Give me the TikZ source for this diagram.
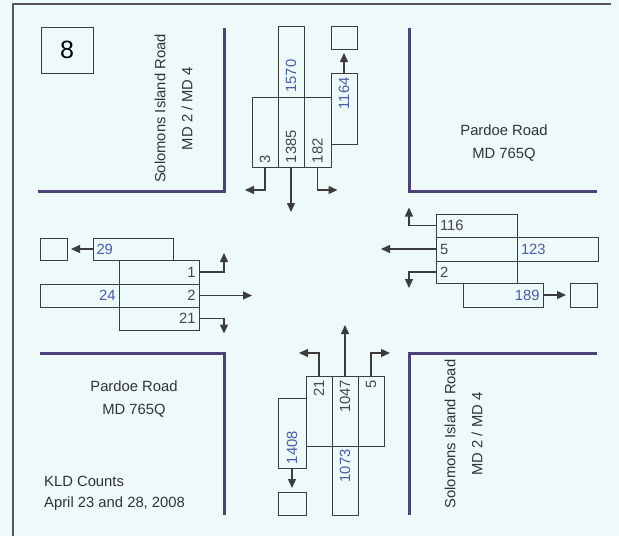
\documentclass[tikz,border=0pt]{standalone}
\usepackage{fontspec}
\setmainfont{Liberation Sans}
\usetikzlibrary{arrows.meta,positioning}
\definecolor{bgcyan}{RGB}{238,249,249}
\definecolor{curb}{RGB}{78,66,122}
\definecolor{framegray}{RGB}{85,85,85}
\definecolor{boxgray}{RGB}{60,60,60}
\definecolor{cntblue}{RGB}{72,92,170}
\definecolor{mvgray}{RGB}{70,70,70}

\begin{document}
\begin{tikzpicture}[
  x=1pt, y=-1pt,
  font=\fontsize{14.8}{18}\selectfont,
  cell/.style={draw=boxgray, line width=1pt, inner sep=0pt, outer sep=0pt, text=mvgray},
  hcell/.style={cell, minimum width=80pt, minimum height=23pt, text width=73pt},
  vcell/.style={cell, rotate=90, minimum width=70pt, minimum height=26pt, text width=62pt},
  total/.style={text=cntblue},
  sink/.style={draw=boxgray, line width=1pt, inner sep=0pt, outer sep=0pt, minimum width=26pt, minimum height=23pt},
  arr/.style={-{Triangle[length=9pt,width=8pt]}, line width=1.4pt, draw=boxgray},
  toend/.style={arr, shorten >=4pt},
  curbline/.style={curb, line width=3pt},
  roadname/.style={align=center, text=black!80, inner sep=0pt}
]
  \fill[bgcyan] (0,0) rectangle (619,536);
  \useasboundingbox (0,0) rectangle (619,536);
  \draw[framegray, line width=1.5pt] (13,536) -- (13,4) -- (611,4);

  \node[draw=boxgray, line width=1pt, minimum width=52pt, minimum height=46pt, font=\fontsize{25}{25}\selectfont] (id) at (67,50) {8};

  \draw[curbline] (38,191) -- (224,191) -- (224,28);
  \draw[curbline] (409,28) -- (409,191) -- (597,191);
  \draw[curbline] (40,353) -- (224,353) -- (224,515);
  \draw[curbline] (597,353) -- (409,353) -- (409,515);

  \node[roadname, rotate=90, font=\fontsize{14.8}{27}\selectfont] (solN) at (173.5,108.5) {Solomons Island Road\\MD 2 / MD 4};
  \node[roadname, font=\fontsize{14.8}{23}\selectfont] (parE) at (504,143.5) {Pardoe Road\\MD 765Q};
  \node[roadname, font=\fontsize{14.8}{23}\selectfont] (parW) at (134,399.5) {Pardoe Road\\MD 765Q};
  \node[roadname, rotate=90, font=\fontsize{14.8}{27}\selectfont] (solS) at (463.5,434) {Solomons Island Road\\MD 2 / MD 4};
  \node[roadname, align=left, anchor=west, font=\fontsize{14.8}{21}\selectfont] (kld) at (44,493.5) {KLD Counts\\April 23 and 28, 2008};

  \node[vcell, total, align=left, minimum width=71pt] (n1570) at (291,61.5) {1570};
  \node[vcell, align=left] (n3) at (265,132) {3};
  \node[vcell, align=left] (n1385) at (291,132) {1385};
  \node[vcell, align=left, minimum height=27pt] (n182) at (317.5,132) {182};
  \node[vcell, total, align=right, minimum width=71pt] (n1164) at (344,108.5) {1164};
  \node[sink] (nsink) at (344,37.5) {};

  \node[hcell, total, align=left, minimum height=22pt] (w29) at (133,249) {29};
  \node[sink, minimum width=27pt, minimum height=22pt, left=26pt of w29] (wsink) {};
  \node[hcell, align=right, minimum height=24pt] (w1) at (159,272) {1};
  \node[hcell, align=right, below=0pt of w1] (w2) {2};
  \node[hcell, align=right, below=0pt of w2] (w21) {21};
  \node[hcell, total, align=right, minimum width=79pt, text width=72pt, left=0pt of w2] (w24) {24};

  \node[hcell, align=left, minimum width=81pt] (e116) at (476.5,225.5) {116};
  \node[hcell, align=left, minimum width=81pt, minimum height=24pt, below=0pt of e116] (e5) {5};
  \node[hcell, align=left, minimum width=81pt, minimum height=22pt, below=0pt of e5] (e2) {2};
  \node[hcell, total, align=left, minimum width=81pt, minimum height=24pt, right=0pt of e5] (e123) {123};
  \node[hcell, total, align=right, minimum height=24pt] (e189) at (503,295) {189};
  \node[sink, minimum width=27pt, minimum height=24pt, right=27pt of e189] (esink) {};

  \node[vcell, align=right] (s21) at (319,411) {21};
  \node[vcell, align=right] (s1047) at (345,411) {1047};
  \node[vcell, align=right] (s5) at (371,411) {5};
  \node[vcell, total, align=right, minimum width=69pt] (s1073) at (345,480.5) {1073};
  \node[vcell, total, align=left, minimum height=28pt] (s1408) at (292,433) {1408};
  \node[sink, minimum width=28pt] (ssink) at (292,503.5) {};

  \draw[toend] (n1164.east) -- (nsink.south);
  \draw[arr] (n3.west) |- ++(-20,23);
  \draw[arr] (n1385.west) -- ++(0,45);
  \draw[arr] (n182.west) |- ++(20,23);

  \draw[toend] (w29.west) -- (wsink.east);
  \draw[arr] (w1.east) -| ++(25,-19);
  \draw[arr] (w2.east) -- ++(53,0);
  \draw[arr] (w21.east) -| ++(25,15);

  \draw[arr] (e116.west) -| ++(-27,-18);
  \draw[arr] (e5.west) -- ++(-55,0);
  \draw[arr] (e2.west) -| ++(-27,16);
  \draw[toend] (e189.east) -- (esink.west);

  \draw[arr] (s21.east) |- ++(-20,-23);
  \draw[arr] (s1047.east) -- ++(0,-51);
  \draw[arr] (s5.east) |- ++(19,-23);
  \draw[toend] (s1408.west) -- (ssink.north);
\end{tikzpicture}
\end{document}
